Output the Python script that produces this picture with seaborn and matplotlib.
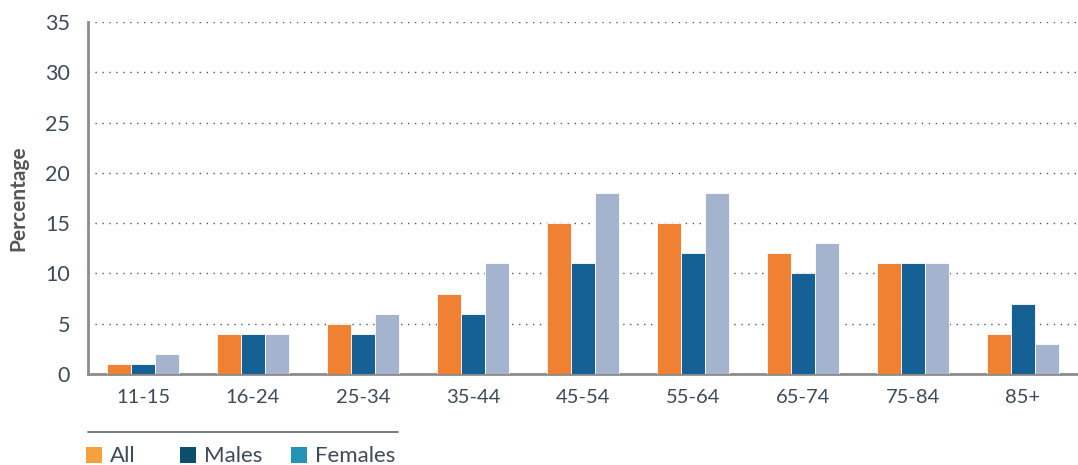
import seaborn as sns
import pandas as pd
import matplotlib as mpl
from matplotlib import pyplot as plt
from matplotlib.patches import Rectangle
from matplotlib.lines import Line2D

age_groups = ['11-15', '16-24', '25-34', '35-44', '45-54', '55-64', '65-74', '75-84', '85+']
all_pct = [1, 4, 5, 8, 15, 15, 12, 11, 4]
males_pct = [1, 4, 4, 6, 11, 12, 10, 11, 7]
females_pct = [2, 4, 6, 11, 18, 18, 13, 11, 3]
series = ['All', 'Males', 'Females']

bar_colors = ['#F08132', '#156094', '#A4B4CE']
legend_colors = ['#F5A03E', '#0B4F6C', '#2394B7']
text_col = '#3D4A57'
axis_col = '#8C8C8C'

rows = []
for name, vals in zip(series, [all_pct, males_pct, females_pct]):
    for age, v in zip(age_groups, vals):
        rows.append({'Age': age, 'Group': name, 'Percentage': v})
df = pd.DataFrame(rows)

sns.set_style('white')
plt.rcParams['font.family'] = ['Lato', 'DejaVu Sans']

W, H = 1078, 465
fig = plt.figure(figsize=(W / 100, H / 100), dpi=100)
ax = fig.add_axes([88 / W, 91 / H, 1 - 88 / W, 352 / H])

sns.barplot(data=df, x='Age', y='Percentage', hue='Group', hue_order=series,
            palette=bar_colors, width=0.66, gap=0, saturation=1,
            edgecolor='white', linewidth=0.6, legend=False, ax=ax, zorder=3)

ax.set_ylim(0, 35)
ax.set_xlim(-0.5, len(age_groups) - 0.5)
ax.set_yticks(range(0, 36, 5))
ax.yaxis.grid(True, linestyle=(0, (1, 4)), color='#555555', linewidth=1.0, zorder=0)
ax.set_axisbelow(True)

for s in ['top', 'right']:
    ax.spines[s].set_visible(False)
for s in ['left', 'bottom']:
    ax.spines[s].set_color(axis_col)
    ax.spines[s].set_linewidth(2)

ax.tick_params(axis='x', which='major', length=0, labelsize=14.5, labelcolor=text_col, pad=11)
ax.set_xticks([i + 0.5 for i in range(len(age_groups) - 1)], minor=True)
ax.tick_params(axis='x', which='minor', length=5, width=1.5, color=axis_col, direction='out')
ax.tick_params(axis='y', length=5, width=1.5, color=axis_col, labelsize=15.5,
               labelcolor=text_col, pad=8)

ax.set_xlabel('')
ax.set_ylabel('Percentage', fontsize=15, color='#555555', fontweight='bold', labelpad=12)

# legend below the chart, laid out by hand to match the original spacing
patch_x = [86, 180, 291]
text_x = [110, 204, 315]
for px, tx, lab, col in zip(patch_x, text_x, series, legend_colors):
    fig.add_artist(Rectangle((px / W, 2 / H), 16 / W, 16 / H, facecolor=col,
                             edgecolor='none', transform=fig.transFigure))
    fig.text(tx / W, 3 / H, lab, fontsize=16, color=text_col, va='baseline')
fig.add_artist(Line2D([88 / W, 398 / W], [1 - 432 / H, 1 - 432 / H], color='#5A6670',
                      linewidth=1.2, transform=fig.transFigure))

plt.savefig('out.png', dpi=100)
